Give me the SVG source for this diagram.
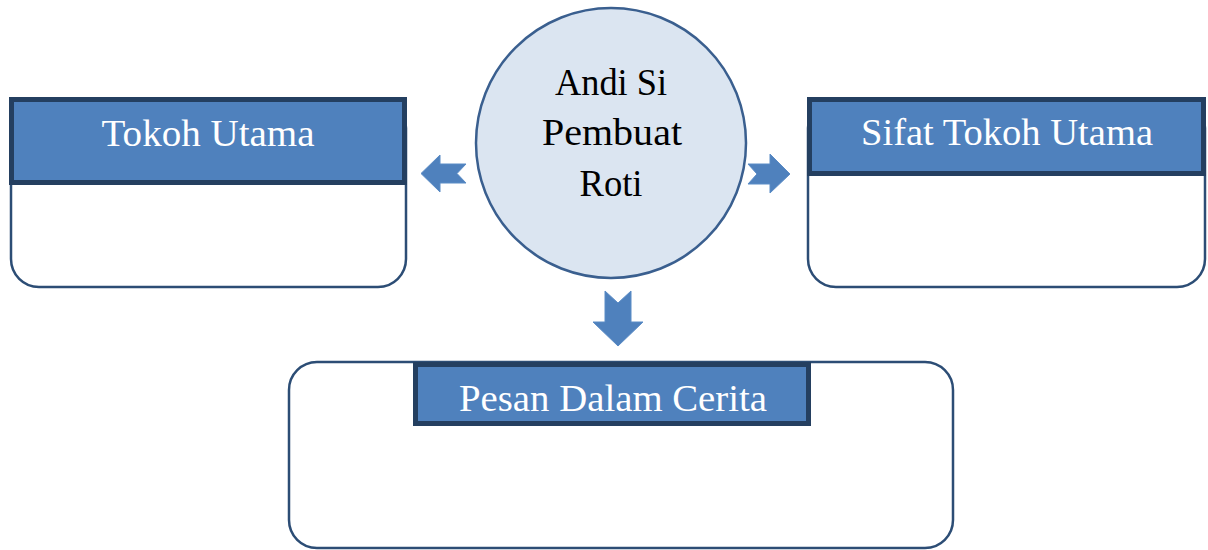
<svg xmlns="http://www.w3.org/2000/svg" width="1208" height="550" viewBox="0 0 1208 550">
<style>
.box{fill:#ffffff;stroke:#2c4d75;stroke-width:2.5}
.hdr{fill:#4f81bd;stroke:#243f60;stroke-width:5}
.ht{fill:#ffffff;font-family:"Liberation Serif",serif;font-size:38px;text-anchor:middle}
.ct{fill:#000000;font-family:"Liberation Serif",serif;font-size:37px;text-anchor:middle}
.arr{fill:#4f81bd;stroke:#5b8cc6;stroke-width:1}
</style>
<rect width="1208" height="550" fill="#ffffff"/>
<g id="connectors">
<polygon class="arr" points="421,173.5 440,155 440,164 466,164 457,173.5 466,183 440,183 440,192"/>
<polygon class="arr" points="790,174 770,154 770,164 748,164 757,174 748,184 770,184 770,193"/>
<polygon class="arr" points="618,346 593,322 605,322 605,291 618,303 631,291 631,322 643,322"/>
</g>
<g id="center">
<circle cx="611" cy="143" r="135" fill="#dbe5f1" stroke="#3a5f8f" stroke-width="2.5"/>
<text class="ct" x="611" y="95" textLength="112" lengthAdjust="spacingAndGlyphs">Andi Si</text>
<text class="ct" x="612" y="145" textLength="140" lengthAdjust="spacingAndGlyphs">Pembuat</text>
<text class="ct" x="611" y="196" textLength="63" lengthAdjust="spacingAndGlyphs">Roti</text>
</g>
<g id="tokoh-utama">
<rect class="box" x="11" y="100" width="395" height="187" rx="28" ry="28"/>
<rect class="hdr" x="11.5" y="99.5" width="393" height="83"/>
<text class="ht" x="208" y="146" textLength="213" lengthAdjust="spacingAndGlyphs">Tokoh Utama</text>
</g>
<g id="sifat-tokoh-utama">
<rect class="box" x="808" y="100" width="397" height="187" rx="28" ry="28"/>
<rect class="hdr" x="809.5" y="99.5" width="394" height="74"/>
<text class="ht" x="1007" y="145" textLength="292" lengthAdjust="spacingAndGlyphs">Sifat Tokoh Utama</text>
</g>
<g id="pesan-dalam-cerita">
<rect class="box" x="289" y="362" width="664" height="186" rx="28" ry="28"/>
<rect class="hdr" x="415.5" y="364.5" width="393" height="59"/>
<text class="ht" x="613" y="411" textLength="308" lengthAdjust="spacingAndGlyphs">Pesan Dalam Cerita</text>
</g>
</svg>
